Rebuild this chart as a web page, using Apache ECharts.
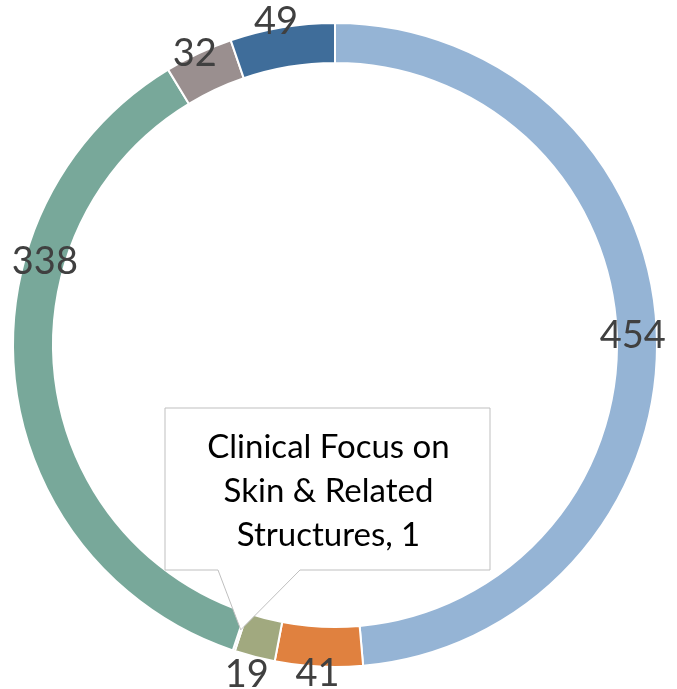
<!DOCTYPE html>
<html lang="en">
<head>
    <meta charset="UTF-8">
    <title>doughnut</title>
    <style>
        html, body { margin: 0; padding: 0; background: #fff; }
    </style>
</head>
<body>

<div id="main" style="width: 677px; height: 689px;"></div>

<script src="https://cdn.jsdelivr.net/npm/echarts@6/dist/echarts.min.js"></script>
<script>
    // data, clockwise from 12 o'clock
    var categories = ['Group A', 'Group B', 'Group C', 'Clinical Focus on Skin & Related Structures', 'Group D', 'Group E', 'Group F'];
    var values = [454, 41, 19, 1, 338, 32, 49];
    var colors = ['#95b4d5', '#e0813f', '#a1a97f', '#a1a97f', '#78a89a', '#9a8f8f', '#3f6d9a'];
    // where each number sits relative to the middle of its slice
    var labelOffsets = [[-7, 4], [-2, 24], [-12, 34], [0, 0], [13, -117], [-11, -15], [-9, -22]];
    var calloutIndex = 3;

    var cx = 335, cy = 345, rIn = 282, rOut = 322;

    var myChart = echarts.init(document.getElementById('main'));

    var seriesData = categories.map(function (name, i) {
        var item = {
            name: name,
            value: values[i],
            itemStyle: { color: colors[i] },
            label: { offset: labelOffsets[i] }
        };
        if (i === calloutIndex) {
            item.label = { show: false };
        }
        return item;
    });

    // tip of the callout: middle of the tiny slice, half way through the ring
    var total = values.reduce(function (a, b) { return a + b; }, 0);
    var before = 0;
    for (var i = 0; i < calloutIndex; i++) before += values[i];
    var midAngle = (before + values[calloutIndex] / 2) / total * 2 * Math.PI;
    var rMid = (rIn + rOut) / 2 - 2;
    var tipX = cx + rMid * Math.sin(midAngle);
    var tipY = cy + rMid * Math.cos(midAngle) * -1;

    var boxL = 165, boxT = 408, boxR = 490, boxB = 570;

    var option = {
        animation: false,
        series: [
            {
                type: 'pie',
                center: [cx, cy],
                radius: [rIn, rOut],
                startAngle: 90,
                clockwise: true,
                silent: true,
                itemStyle: {
                    borderColor: '#ffffff',
                    borderWidth: 2
                },
                label: {
                    show: true,
                    position: 'inside',
                    formatter: '{c}',
                    fontFamily: 'Lato',
                    fontSize: 38,
                    color: '#404040'
                },
                labelLine: { show: false },
                data: seriesData
            }
        ],
        graphic: [
            {
                type: 'polygon',
                z: 10,
                shape: {
                    points: [
                        [boxL, boxT], [boxR, boxT], [boxR, boxB],
                        [300, boxB], [tipX, tipY], [218, boxB], [boxL, boxB]
                    ]
                },
                style: { fill: '#ffffff', stroke: '#bfbfbf', lineWidth: 1 }
            },
            {
                type: 'text',
                z: 11,
                x: (boxL + boxR) / 2 + 1,
                y: (boxT + boxB) / 2 + 2,
                style: {
                    text: 'Clinical Focus on\nSkin & Related\nStructures, ' + values[calloutIndex],
                    fontFamily: 'Lato',
                    fontSize: 33,
                    lineHeight: 44,
                    fill: '#000000',
                    align: 'center',
                    verticalAlign: 'middle'
                }
            }
        ]
    };
    myChart.setOption(option);
</script>
</body>
</html>
